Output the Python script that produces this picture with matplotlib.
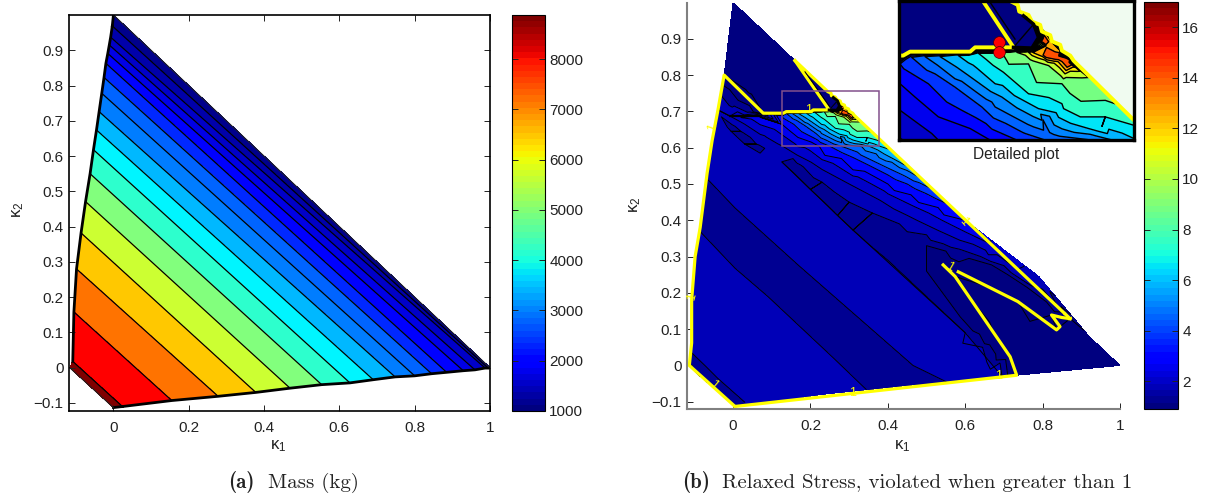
import matplotlib
matplotlib.use("Agg")
import matplotlib.pyplot as plt
import matplotlib.tri as mtri
from matplotlib.colors import Normalize
from matplotlib.cm import ScalarMappable
from matplotlib.patches import Rectangle
import numpy as np

plt.rcParams['font.family'] = ['Liberation Sans', 'DejaVu Sans']
plt.rcParams['mathtext.fontset'] = 'custom'
plt.rcParams['mathtext.rm'] = 'Liberation Sans'
plt.rcParams['mathtext.it'] = 'Liberation Sans'
plt.rcParams['axes.unicode_minus'] = True

# ---- tick labels
x_ticks = [0, 0.2, 0.4, 0.6, 0.8, 1]
x_labels = ['0', '0.2', '0.4', '0.6', '0.8', '1']
y_ticks = [-0.1, 0, 0.1, 0.2, 0.3, 0.4, 0.5, 0.6, 0.7, 0.8, 0.9]
y_labels = ['\u22120.1', '0', '0.1', '0.2', '0.3', '0.4', '0.5', '0.6', '0.7', '0.8', '0.9']
mass_ticks = [1000, 2000, 3000, 4000, 5000, 6000, 7000, 8000]
stress_ticks = [2, 4, 6, 8, 10, 12, 14, 16]

# ---- mass contours, one value per line, read at both ends of each line
mass_k1_left = [0, -.003, -.0074, -.011, -.015, -.02, -.025, -.031, -.038, -.045, -.053, -.062, -.074, -.086, -.098, -.105, -.108, -.116]
mass_k2_left = [1, .969, .937, .915, .891, .863, .823, .778, .726, .674, .618, .55, .471, .382, .28, .158, .018, 0]
mass_k1_right = [1, .995, .987, .96, .929, .885, .845, .80, .748, .69, .628, .553, .469, .378, .278, .155, .024, 0]
mass_k2_right = [0, -.001, -.001, -.006, -.0085, -.013, -.017, -.023, -.026, -.034, -.043, -.048, -.058, -.07, -.081, -.093, -.11, -.113]
mass_values = [1000, 1290, 1580, 1860, 2130, 2390, 2650, 2900, 3190, 3520, 3880, 4300, 4800, 5400, 6050, 6800, 7900, 8875]
mass_band_colors = ['#00008c', '#0000aa', '#0000c8', '#0000e6', '#0000ff', '#0028ff', '#0064ff', '#007dff',
                    '#00b8ff', '#00f5ff', '#2dffcd', '#82ff7d', '#ccff32', '#ffc800', '#ff7300', '#ff0000', '#800000']

# ---- stress levels
stress_levels = [.9, 1, 1.2, 1.45, 1.9, 2.35, 2.7, 3.4, 4.1, 4.8, 5.5, 6.2, 7, 8, 9.5, 11, 12, 13, 15, 17]

# ---- stress, low diagonal bands below line D: rows run from the left edge to the bottom edge
low_k1 = [[-.113, -.085, -.055, -.025, .005],
          [-.107, -.07, -.04, -.005, .031],
          [-.103, -.04, .03, .10, .18],
          [-.085, .005, .09, .26, .345],
          [-.075, .03, .13, .33, .45],
          [-.064, .005, .17, .465, .553],
          [-.03, .08, .24, .5, .65],
          [.126, .2, .31, .60, .695]]
low_k2 = [[0, -.03, -.057, -.085, -.113],
          [.035, -.003, -.035, -.068, -.102],
          [.22, .155, .09, .02, -.085],
          [.369, .268, .19, .02, -.067],
          [.45, .325, .23, .03, -.055],
          [.511, .434, .275, 0, -.046],
          [.56, .47, .32, .07, -.036],
          [.561, .485, .373, .09, -.03]]
low_values = [1.3, 1.45, 1.7, 1.45, 1.3, 1.45, 1.7, 1.45]

navy_pts = [(0, 1), (.08, .92), (.16, .84), (.22, .78), (.26, .74), (.05, .85), (.1, .78), (.05, .76), (.2, .78), (.245, .73), (.2, .72), (.14, .72),
            (.64, .20), (.68, .13), (.75, .1), (.78, .03), (.9, .04), (.85, -.015), (1, 0), (.92, .08)]
one_pts = [(-.023, .80), (.078, .695), (.13, .695), (.1374, .6993), (.1535, .70), (.1696, .70), (.1893, .70), (.2019, .6993), (.2072, .704),
           (.2188, .704), (.2359, .704), (.2484, .704),
           (.2681, .7032), (.2752, .7148), (.2699, .7292), (.2591, .7383), (.28, .72), (.30, .70), (.312, .688),
           (.733, -.027), (.716, .024), (.67, .10), (.62, .175), (.574, .245), (.543, .277), (.582, .258), (.65, .22), (.736, .176), (.836, .098), (.845, .107), (.823, .139), (.871, .129)]
line_12 = [(.436, .351), (.50, .33), (.55, .315), (.61, .295), (.668, .277), (.71, .25), (.76, .215), (.81, .175), (.853, .147),
           (.47, .30), (.50, .26), (.545, .195), (.587, .134), (.62, .095), (.65, .06), (.68, .015), (.71, -.029)]
valley_13 = [(-.03, .76), (0, .72), (.04, .70), (.165, .55), (.2, .51), (.25, .47), (.30, .42), (.36, .37), (.42, .33),
             (.48, .247), (.53, .185), (.62, .08), (.66, .035), (.0, .655), (.03, .63), (.065, .597)]
line_145 = [(.126, .561), (.16, .527), (.2, .485), (.235, .45), (.27, .413), (.31, .373), (.355, .33), (.40, .29), (.45, .24), (.50, .19), (.55, .14), (.60, .09), (.645, .05), (.69, .007), (.695, -.03),
            (.155, .57), (.23, .505), (.30, .45), (.36, .42), (.43, .39), (.50, .36), (.586, .32), (.64, .30), (.70, .275), (.77, .22), (.84, .16),
            (-.03, .685), (-.005, .645), (.03, .61), (.07, .585), (.10, .565), (.06, .61), (.02, .645)]
ridge_17 = [(-.113, 0), (.005, -.113), (-.107, .062), (-.107, .18), (-.098, .30), (-.085, .38), (-.067, .53), (-.054, .62), (.25, -.077), (.45, -.055), (.65, -.036),
            (.1, .1), (.3, .1), (.2, .3), (.05, .4), (.45, .1), (.55, .03), (.79, .245),
            (-.04, .66), (.02, .66), (.07, .625), (.11, .60), (.12, .585), (-.03, .56), (.03, .53), (.08, .50)]
line_19 = [(-.039, .704), (-.008, .687), (.018, .672), (.13, .603), (.165, .58), (.23, .54), (.30, .50), (.38, .455), (.475, .40), (.53, .372), (.586, .345), (.66, .305), (.735, .265)]
line_235 = [(.02, .683), (.1267, .6354), (.1607, .6101), (.1678, .6029), (.23, .567), (.31, .522), (.40, .473), (.47, .437), (.54, .40), (.60, .368), (.665, .335)]
line_27 = [(.07, .684), (.1267, .6643), (.1428, .6498), (.1678, .6282), (.2019, .6155), (.2233, .6029), (.28, .57), (.34, .535), (.40, .50), (.46, .47), (.53, .435), (.60, .40)]
line_34 = [(.1267, .6859), (.1571, .6643), (.1929, .6354), (.252, .6029), (.31, .573), (.35, .552), (.40, .525), (.45, .50), (.50, .473), (.556, .444)]
line_41 = [(.1392, .6931), (.1643, .6751), (.1857, .6606), (.2144, .639), (.2824, .6029), (.33, .58), (.365, .562), (.40, .544), (.44, .524), (.48, .504), (.513, .487)]
line_48 = [(.1535, .6939), (.1857, .6697), (.2287, .639), (.28, .625), (.3325, .6029), (.37, .583), (.41, .56), (.45, .537), (.483, .517)]
line_55 = [(.1696, .6939), (.2001, .6733), (.2359, .6498), (.2788, .6245), (.354, .603), (.39, .583), (.42, .566), (.453, .547)]
line_62 = [(.1893, .695), (.2287, .6643), (.2752, .6372), (.3289, .6155), (.3773, .6047), (.405, .595)]
line_70 = [(.2108, .6975), (.2375, .6769), (.2645, .6534), (.3003, .6426), (.3021, .6372), (.32, .6282), (.3433, .618), (.3468, .6282), (.3773, .6191), (.385, .615)]
line_80 = [(.2359, .6985), (.2645, .6859), (.3003, .6643), (.3468, .6462), (.3576, .6424)]
line_95 = [(.252, .6985), (.286, .6841), (.3218, .6707), (.3289, .6711)]
ring_12 = [(.2699, .6987), (.2788, .6949), (.2967, .6888), (.3128, .6834), (.3093, .6913), (.2985, .7004), (.2896, .7094), (.2824, .7202), (.2735, .7292), (.276, .7148)]
fan_gaps = [(.133, .69, 3.8), (.2, .695, 6.6), (.225, .697, 7.5), (.244, .698, 8.7), (.26, .6985, 10.0)]
orange_pts = [(.2842, .7058)]
red_pts = [(.277, .7166), (.2824, .6967), (.2967, .6938), (.3075, .6877), (.2795, .7115)]

stress_groups = [(.92, navy_pts), (1.0, one_pts), (1.2, line_12), (1.3, valley_13), (1.45, line_145), (1.7, ridge_17),
                 (1.9, line_19), (2.35, line_235), (2.7, line_27), (3.4, line_34), (4.1, line_41), (4.8, line_48),
                 (5.5, line_55), (6.2, line_62), (7.0, line_70), (8.0, line_80), (9.5, line_95), (12.2, ring_12),
                 (12.6, orange_pts), (14.5, red_pts)]

# ---- yellow contour at stress 1 and black bunched contours
yellow_left = [(.005, -.113), (-.113, 0), (-.107, .062), (-.107, .18), (-.098, .30), (-.085, .38), (-.067, .53), (-.054, .62), (-.039, .704), (-.023, .80),
               (.078, .695), (.13, .695), (.1374, .6993), (.2019, .6993), (.2072, .704), (.2484, .704), (.16, .84)]
yellow_hyp = [(.16, .84), (.2448, .7545), (.253, .7502), (.2545, .743), (.2645, .7393), (.2681, .7321), (.277, .7285), (.2788, .7213), (.2878, .7173),
              (.2896, .7105), (.2985, .7068), (.3003, .7004), (.3093, .695), (.3128, .6895), (.3218, .6805), (.871, .129)]
yellow_bottom = [(.005, -.113), (.733, -.027), (.716, .024), (.574, .245), (.543, .277)]
yellow_wedge = [(.582, .258), (.736, .176), (.836, .098), (.845, .107), (.823, .139), (.85, .132), (.871, .129)]
black_thick = [(.2484, .704), (.2681, .7032), (.2752, .7148), (.2699, .7292), (.2591, .7383)]
black_small = [(-.008, .687), (.072, .687)]
black_strip = [(.186, .809), (.25, .713)]
label_k1 = [-.05, -.105, .31, .685, .56, .865, .595, .195, -.052]
label_k2 = [-.055, .19, -.075, -.03, .27, .135, .395, .705, .654]
label_rot = [-40, 75, 0, 0, -30, 40, -50, 0, 70]
red_k1 = [.2323, .2323]
red_k2 = [.7094, .6993]

W, H = 1211.0, 501.0


def px_axes(l, t, r, b):
    return fig.add_axes([l / W, 1 - b / H, (r - l) / W, (b - t) / H])


def split(pts):
    return [p[0] for p in pts], [p[1] for p in pts]


def style_axes(ax, xlim, ylim):
    ax.set_xlim(xlim)
    ax.set_ylim(ylim)
    ax.set_xticks(x_ticks, x_labels)
    ax.set_yticks(y_ticks, y_labels)
    ax.tick_params(direction='in', length=4, width=.7, labelsize=11, colors='#222222')
    ax.tick_params(axis='x', pad=7)
    ax.tick_params(axis='y', pad=4)


fig = plt.figure(figsize=(12.11, 5.01), dpi=100)

# ---- (a) mass
ax1 = px_axes(69, 15, 490, 411)
X = np.array([mass_k1_left, mass_k1_right]).T
Y = np.array([mass_k2_left, mass_k2_right]).T
Z = np.array([mass_values, mass_values]).T
ax1.contourf(X, Y, Z, levels=mass_values, colors=mass_band_colors)
ax1.contour(X, Y, Z, levels=mass_values[1:-1], colors='k', linewidths=.9)
ax1.plot(X[1:17, 0], Y[1:17, 0], color='k', lw=2)
ax1.plot(X[:2, 0], Y[:2, 0], color='k', lw=2)
ax1.plot(X[16:, 1], Y[16:, 1], color='k', lw=2)
ax1.plot(X[1:17, 1], Y[1:17, 1], color='k', lw=2)
ax1.plot([0, 1], [1, 0], color='#222222', lw=.8)
ax1.plot([mass_k1_left[-1], mass_k1_right[-1]], [mass_k2_left[-1], mass_k2_right[-1]], color='#222222', lw=.8)
style_axes(ax1, (-.118, 1), (-.1227, 1))
ax1.tick_params(top=True, right=True)
for s in ax1.spines.values():
    s.set_linewidth(1.2)

cax1 = px_axes(512, 15, 545, 411)
jet = plt.get_cmap('jet', 64)
cb1 = fig.colorbar(ScalarMappable(Normalize(1000, 8875), jet), cax=cax1, ticks=mass_ticks)
cb1.ax.tick_params(direction='in', length=4, width=.7, left=True, right=True, labelsize=11, colors='#222222', pad=3)

# ---- (b) stress
k1_all, k2_all, s_all = [], [], []
for val, pts in stress_groups:
    for p in pts:
        k1_all.append(p[0])
        k2_all.append(p[1])
        s_all.append(val)
for p in fan_gaps:
    k1_all.append(p[0])
    k2_all.append(p[1])
    s_all.append(p[2])
tri = mtri.Triangulation(k1_all, k2_all)
tri.set_mask(mtri.TriAnalyzer(tri).get_flat_tri_mask(.005))
snorm = Normalize(.9, 17)
low_z = np.array([[v] * 5 for v in low_values])


def draw_stress(ax, lw_y, lw_k):
    ax.tricontourf(tri, s_all, levels=stress_levels, cmap=jet, norm=snorm)
    ax.tricontour(tri, s_all, levels=stress_levels[1:-1], colors='k', linewidths=lw_k)
    ax.contourf(low_k1, low_k2, low_z, levels=stress_levels, cmap=jet, norm=snorm)
    ax.contour(low_k1, low_k2, low_z, levels=[1.45], colors='k', linewidths=lw_k)
    for path in (yellow_left, yellow_hyp, yellow_bottom, yellow_wedge):
        ax.plot(*split(path), color='#ffff00', lw=lw_y, solid_joinstyle='round')
    ax.plot(*split(black_thick), color='k', lw=lw_y * .9)
    ax.plot(*split(black_small), color='k', lw=lw_y * .7)
    ax.plot(*split(black_strip), color='k', lw=lw_k)


ax2 = px_axes(687, 2.5, 1120, 409)
draw_stress(ax2, 2.3, .7)
for kx, ky, rot in zip(label_k1, label_k2, label_rot):
    ax2.text(kx, ky, '1', color='#ffff00', fontsize=9, rotation=rot, ha='center', va='center')
style_axes(ax2, (-.119, 1), (-.12, 1))
ax2.spines['top'].set_visible(False)
ax2.spines['right'].set_visible(False)
ax2.spines['left'].set_color('#808080')
ax2.spines['bottom'].set_color('#808080')
ax2.spines['left'].set_linewidth(1.5)
ax2.spines['bottom'].set_linewidth(1.5)
ax2.add_patch(Rectangle((.1253, .6047), .252, .1513, fill=False, ec='#82508c', lw=1.1, zorder=6))

inset = px_axes(899, 1, 1134, 140)
inset.set_facecolor('#f0fbf0')
draw_stress(inset, 2.8, 1.0)
inset.plot(red_k1, red_k2, 'o', color='#ff0000', mec='#400000', mew=.5, ms=8.5)
inset.set_xlim(.1256, .3776)
inset.set_ylim(.603, .7545)
inset.set_xticks([])
inset.set_yticks([])
for s in inset.spines.values():
    s.set_linewidth(2.4)
fig.text(1016.5 / W, 1 - 154 / H, 'Detailed plot', fontsize=11.2, color='#222222', ha='center', va='center')

cax2 = px_axes(1144, 2, 1178, 409)
cb2 = fig.colorbar(ScalarMappable(snorm, jet), cax=cax2, ticks=stress_ticks)
cb2.ax.tick_params(direction='in', length=4, width=.7, left=True, right=True, labelsize=11, colors='#222222', pad=3)

# ---- axis labels and captions
fig.text(278 / W, 1 - 446 / H, r'$\kappa_1$', fontsize=12, color='#222222', ha='center', va='center')
fig.text(18 / W, 1 - 210 / H, r'$\kappa_2$', fontsize=12, color='#222222', ha='center', va='center', rotation=90)
fig.text(902 / W, 1 - 446 / H, r'$\kappa_1$', fontsize=12, color='#222222', ha='center', va='center')
fig.text(635 / W, 1 - 205 / H, r'$\kappa_2$', fontsize=12, color='#222222', ha='center', va='center', rotation=90)

fig.text(228 / W, 1 - 488 / H, '(a)', family='cmb10', fontsize=15, color='#222222')
fig.text(268 / W, 1 - 488 / H, 'Mass (kg)', family='cmr10', fontsize=15, color='#222222')
fig.text(682 / W, 1 - 488 / H, '(b)', family='cmb10', fontsize=15, color='#222222')
fig.text(722 / W, 1 - 488 / H, 'Relaxed Stress, violated when greater than 1', family='cmr10', fontsize=15, color='#222222')

fig.savefig('out.png', dpi=100)
